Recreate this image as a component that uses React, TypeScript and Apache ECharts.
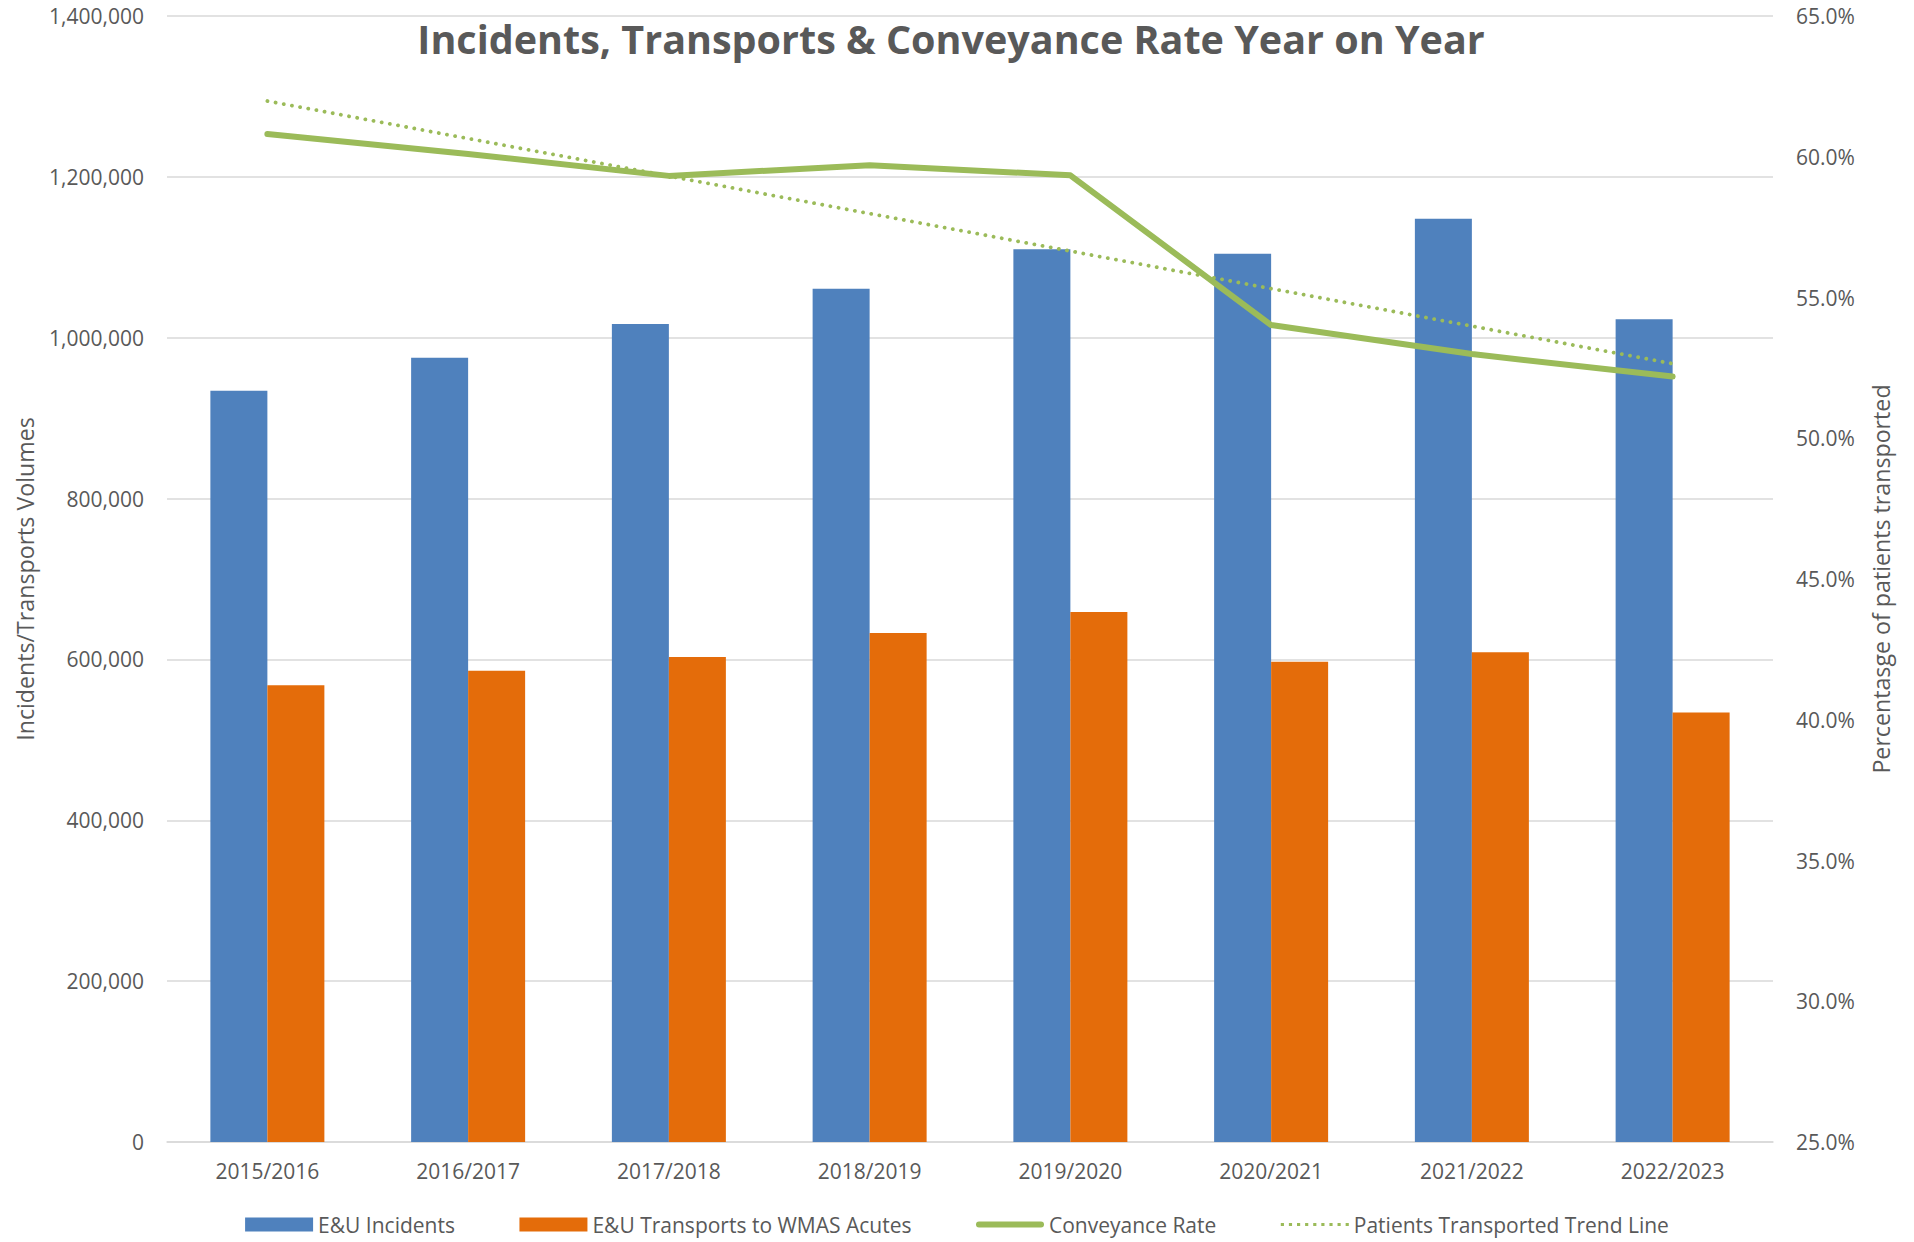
import React, { useEffect, useRef } from "react";
import * as echarts from "echarts";

const categories = ["2015/2016", "2016/2017", "2017/2018", "2018/2019", "2019/2020", "2020/2021", "2021/2022", "2022/2023"];
const incidents = [934000, 975000, 1017000, 1061000, 1110000, 1104500, 1148000, 1023000];
const transports = [568000, 586000, 603000, 633000, 659000, 597000, 609000, 534000];
const conveyanceRate = [60.81, 60.1, 59.32, 59.7, 59.34, 54.02, 52.99, 52.19];
const trendLine = [61.98, null, null, null, null, null, null, 52.65];

const FONT = "'Open Sans', 'Noto Sans', sans-serif";
const GREY = "#595959";
const GREEN = "#9bbb59";

const thickLineIcon = "path://M3,0 L65,0 A3,3 0 0 1 65,6 L3,6 A3,3 0 0 1 3,0 Z";
const dottedIcon =
  "path://" +
  [0, 1, 2, 3, 4, 5, 6, 7, 8]
    .map((i) => {
      const x = i * 8.2;
      return `M${x},0 L${x + 3.2},0 L${x + 3.2},3.2 L${x},3.2 Z`;
    })
    .join(" ");

export default function App() {
  const ref = useRef<HTMLDivElement>(null);
  useEffect(() => {
    if (!ref.current) return;
    const chart = echarts.init(ref.current, undefined, { renderer: "svg" });
    chart.setOption({
      animation: false,
      backgroundColor: "#ffffff",
      textStyle: { fontFamily: FONT },
      title: {
        text: "Incidents, Transports & Conveyance Rate Year on Year",
        left: 946,
        textAlign: "center",
        top: 14,
        textStyle: { fontFamily: FONT, fontSize: 39.5, fontWeight: "bold", color: GREY },
      },
      legend: {
        bottom: 2,
        left: "center",
        itemWidth: 68,
        itemHeight: 14,
        itemGap: 64.5,
        textStyle: { fontFamily: FONT, fontSize: 21, color: GREY },
        data: [
          { name: "E&U Incidents", icon: "rect" },
          { name: "E&U Transports to WMAS Acutes", icon: "rect" },
          { name: "Conveyance Rate", icon: thickLineIcon, itemStyle: { color: GREEN } },
          { name: "Patients Transported Trend Line", icon: dottedIcon, itemStyle: { color: GREEN } },
        ],
      },
      grid: { left: 167, right: 141, top: 16, bottom: 100, containLabel: false },
      xAxis: {
        type: "category",
        data: categories,
        axisLine: { lineStyle: { color: "#d9d9d9", width: 1.5 } },
        axisTick: { show: false },
        axisLabel: { fontFamily: FONT, fontSize: 21, color: GREY, margin: 18 },
      },
      yAxis: [
        {
          type: "value",
          min: 0,
          max: 1400000,
          interval: 200000,
          name: "Incidents/Transports Volumes",
          nameLocation: "middle",
          nameGap: 131,
          nameTextStyle: { fontFamily: FONT, fontSize: 23.2, color: GREY },
          axisLine: { show: false },
          axisTick: { show: false },
          splitLine: { lineStyle: { color: "#d9d9d9", width: 1.5 } },
          axisLabel: {
            fontFamily: FONT,
            fontSize: 21,
            color: GREY,
            margin: 23,
            formatter: (v: number) => v.toLocaleString("en-US"),
          },
        },
        {
          type: "value",
          min: 25,
          max: 65,
          interval: 5,
          name: "Percentasge of patients transported",
          nameLocation: "middle",
          nameGap: 96,
          nameTextStyle: { fontFamily: FONT, fontSize: 23.2, color: GREY },
          axisLine: { show: false },
          axisTick: { show: false },
          splitLine: { show: false },
          axisLabel: {
            fontFamily: FONT,
            fontSize: 21,
            color: GREY,
            margin: 23,
            formatter: (v: number) => v.toFixed(1) + "%",
          },
        },
      ],
      series: [
        {
          name: "E&U Incidents",
          type: "bar",
          data: incidents,
          barWidth: 57,
          barGap: "0%",
          itemStyle: { color: "#4f81bd" },
        },
        {
          name: "E&U Transports to WMAS Acutes",
          type: "bar",
          data: transports,
          barWidth: 57,
          barGap: "0%",
          itemStyle: { color: "#e46c0a" },
        },
        {
          name: "Conveyance Rate",
          type: "line",
          yAxisIndex: 1,
          data: conveyanceRate,
          symbol: "none",
          itemStyle: { color: GREEN },
          lineStyle: { color: GREEN, width: 6, cap: "round", join: "round" },
          z: 5,
        },
        {
          name: "Patients Transported Trend Line",
          type: "line",
          yAxisIndex: 1,
          data: trendLine,
          connectNulls: true,
          symbol: "none",
          itemStyle: { color: GREEN },
          lineStyle: { color: GREEN, width: 3.8, type: [0.1, 8.2], cap: "round" },
          z: 4,
        },
      ],
    });
    return () => chart.dispose();
  }, []);
  return <div ref={ref} style={{ position: "fixed", left: 0, top: 0, width: 1914, height: 1242 }} />;
}
